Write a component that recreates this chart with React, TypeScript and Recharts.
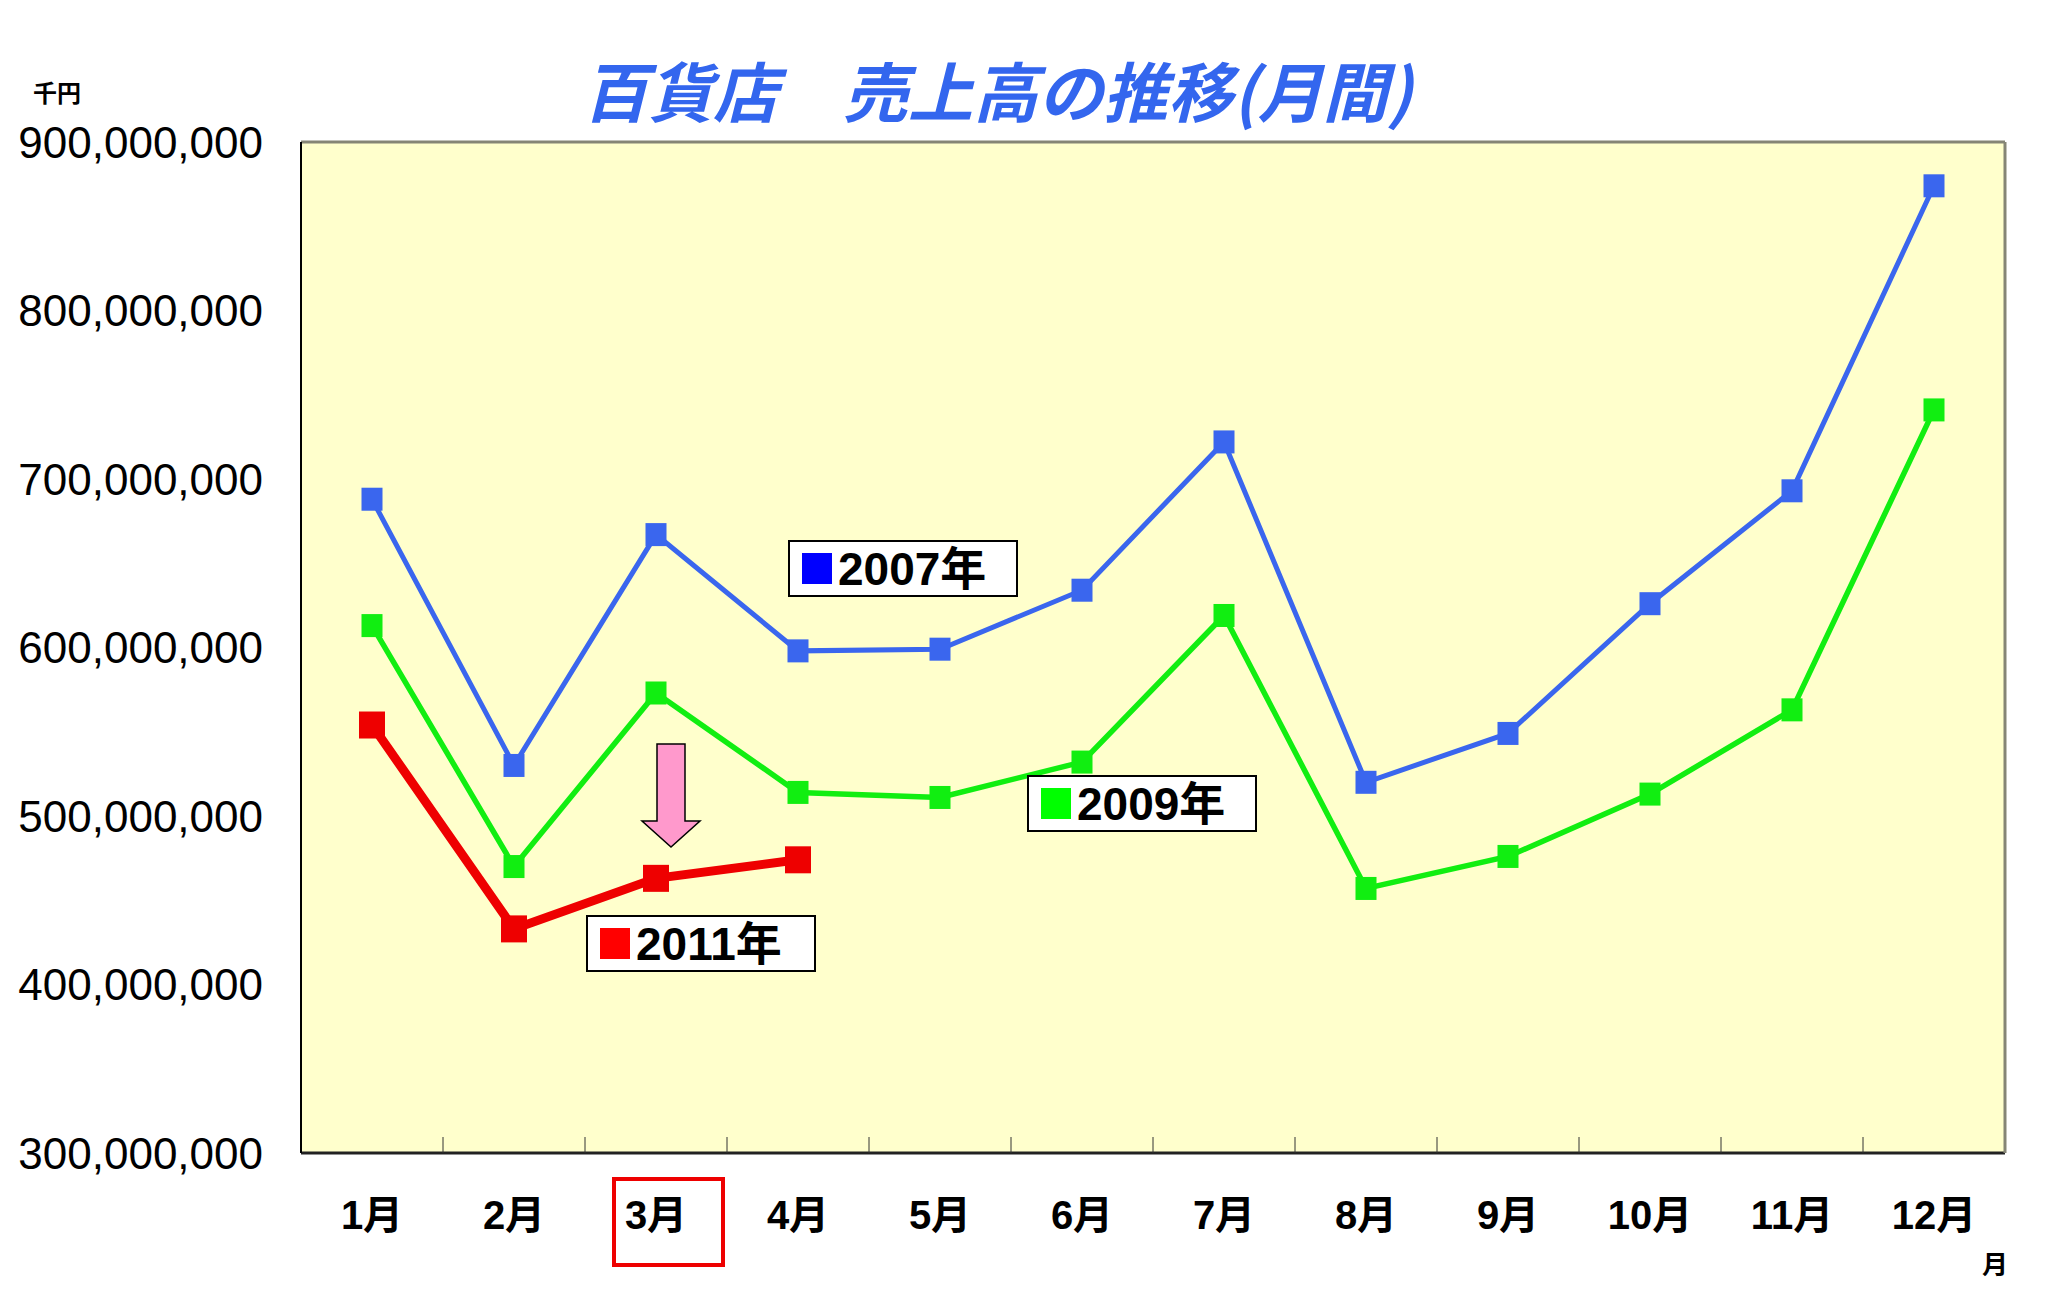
import {
  LineChart,
  Line,
  XAxis,
  YAxis,
  CartesianGrid,
  ReferenceLine,
} from 'recharts';

const months = ['1月', '2月', '3月', '4月', '5月', '6月', '7月', '8月', '9月', '10月', '11月', '12月'];

// 千円
const sales2007 = [688000000, 530000000, 667000000, 598000000, 599000000, 634000000, 722000000, 520000000, 549000000, 626000000, 693000000, 874000000];
const sales2009 = [613000000, 470000000, 573000000, 514000000, 511000000, 532000000, 619000000, 457000000, 476000000, 513000000, 563000000, 741000000];
const sales2011 = [554000000, 433000000, 463000000, 474000000];

const yTicks = [300000000, 400000000, 500000000, 600000000, 700000000, 800000000, 900000000];

const data = months.map((m, i) => ({
  month: m,
  y2007: sales2007[i],
  y2009: sales2009[i],
  y2011: i < sales2011.length ? sales2011[i] : null,
}));

const W = 2059;
const H = 1302;
const X_TICK_SIZE = 0;
const X_TICK_MARGIN = 10;

const squareDot = (w: number, h: number, color: string) => (props: any) => {
  const { cx, cy, index } = props;
  if (cx == null || cy == null || props.value == null) return <g key={`d-${index}`} />;
  return <rect key={`d-${index}`} x={cx - w / 2} y={cy - h / 2} width={w} height={h} fill={color} />;
};

const MonthTick = (props: any) => {
  const { x, y, payload, index } = props;
  const axisY = y - X_TICK_SIZE - X_TICK_MARGIN;
  const half = payload.offset ?? 71;
  return (
    <g>
      {index > 0 && (
        <line x1={x - half} x2={x - half} y1={axisY} y2={axisY - 16} stroke="#333" strokeWidth={1} />
      )}
      <text
        x={x}
        y={axisY + 76}
        textAnchor="middle"
        fontSize={40}
        fontWeight="bold"
        fontFamily="'Liberation Sans', 'Noto Sans CJK JP', sans-serif"
        fill="#000"
      >
        {payload.value}
      </text>
    </g>
  );
};

const LegendTag = ({ left, top, color, label }: { left: number; top: number; color: string; label: string }) => (
  <div
    style={{
      position: 'absolute',
      left,
      top,
      width: 226,
      height: 53,
      background: '#fff',
      border: '2px solid #000',
      display: 'flex',
      alignItems: 'center',
      boxSizing: 'content-box',
    }}
  >
    <div style={{ width: 30, height: 31, background: color, marginLeft: 12, marginRight: 6 }} />
    <span
      style={{
        fontFamily: "'Liberation Sans', 'Noto Sans CJK JP', sans-serif",
        fontWeight: 'bold',
        fontSize: 46,
        color: '#000',
        lineHeight: 1,
      }}
    >
      {label}
    </span>
  </div>
);

export default function App() {
  return (
    <div style={{ position: 'absolute', left: 0, top: 0, width: W, height: H, background: '#fff', overflow: 'hidden' }}>
      <LineChart width={W} height={H} data={data} margin={{ top: 142, right: 51, bottom: 49, left: 0 }}>
        <CartesianGrid fill="#FFFFCC" stroke="#000" strokeWidth={1.3} vertical={false} />
        <XAxis
          dataKey="month"
          scale="band"
          height={100}
          tick={<MonthTick />}
          tickLine={false}
          tickSize={X_TICK_SIZE}
          tickMargin={X_TICK_MARGIN}
          axisLine={{ stroke: '#222', strokeWidth: 3 }}
          interval={0}
        />
        <YAxis
          yAxisId="left"
          width={301}
          domain={[300000000, 900000000]}
          ticks={yTicks}
          tickFormatter={(v: number) => v.toLocaleString('en-US')}
          tick={{ fontSize: 44, fill: '#000', fontFamily: "'Liberation Sans', Arial, sans-serif" }}
          tickLine={false}
          tickSize={0}
          tickMargin={38}
          axisLine={{ stroke: '#000', strokeWidth: 2 }}
          allowDataOverflow
        />
        <YAxis
          yAxisId="right"
          orientation="right"
          width={3}
          domain={[300000000, 900000000]}
          tick={false}
          tickLine={false}
          axisLine={{ stroke: '#858575', strokeWidth: 3 }}
        />
        <ReferenceLine yAxisId="left" y={900000000} stroke="#858575" strokeWidth={3} />
        <Line
          yAxisId="left"
          type="linear"
          dataKey="y2007"
          stroke="#3A66EE"
          strokeWidth={5}
          dot={squareDot(21, 23, '#3A66EE')}
          isAnimationActive={false}
        />
        <Line
          yAxisId="left"
          type="linear"
          dataKey="y2009"
          stroke="#11EE11"
          strokeWidth={5.5}
          dot={squareDot(21, 23, '#11EE11')}
          isAnimationActive={false}
        />
        <Line
          yAxisId="left"
          type="linear"
          dataKey="y2011"
          stroke="#EE0000"
          strokeWidth={9}
          dot={squareDot(26, 27, '#EE0000')}
          connectNulls={false}
          isAnimationActive={false}
        />
      </LineChart>

      <div
        style={{
          position: 'absolute',
          left: 0,
          width: 1995,
          top: 54,
          textAlign: 'center',
          fontFamily: "'Noto Sans CJK JP', sans-serif",
          fontWeight: 'bold',
          fontStyle: 'italic',
          fontSize: 65,
          color: '#3366EE',
          lineHeight: 1.1,
          whiteSpace: 'pre',
        }}
      >
        {'百貨店\u3000売上高の推移(月間)'}
      </div>

      <div
        style={{
          position: 'absolute',
          left: 33,
          top: 74,
          fontFamily: "'Noto Sans CJK JP', sans-serif",
          fontWeight: 'bold',
          fontSize: 24,
          color: '#000',
        }}
      >
        千円
      </div>

      <div
        style={{
          position: 'absolute',
          left: 1982,
          top: 1244,
          fontFamily: "'Noto Sans CJK JP', sans-serif",
          fontWeight: 'bold',
          fontSize: 26,
          color: '#000',
        }}
      >
        月
      </div>

      <div
        style={{
          position: 'absolute',
          left: 612,
          top: 1177,
          width: 105,
          height: 82,
          border: '4px solid #EE0000',
        }}
      />

      <svg style={{ position: 'absolute', left: 0, top: 0 }} width={W} height={H} pointerEvents="none">
        <polygon
          points="657,744 685,744 685,821 700,821 671,847 642,821 657,821"
          fill="#FF99CC"
          stroke="#000"
          strokeWidth={1.5}
        />
      </svg>

      <LegendTag left={788} top={540} color="#0000FF" label="2007年" />
      <LegendTag left={1027} top={775} color="#00FF00" label="2009年" />
      <LegendTag left={586} top={915} color="#FF0000" label="2011年" />
    </div>
  );
}
